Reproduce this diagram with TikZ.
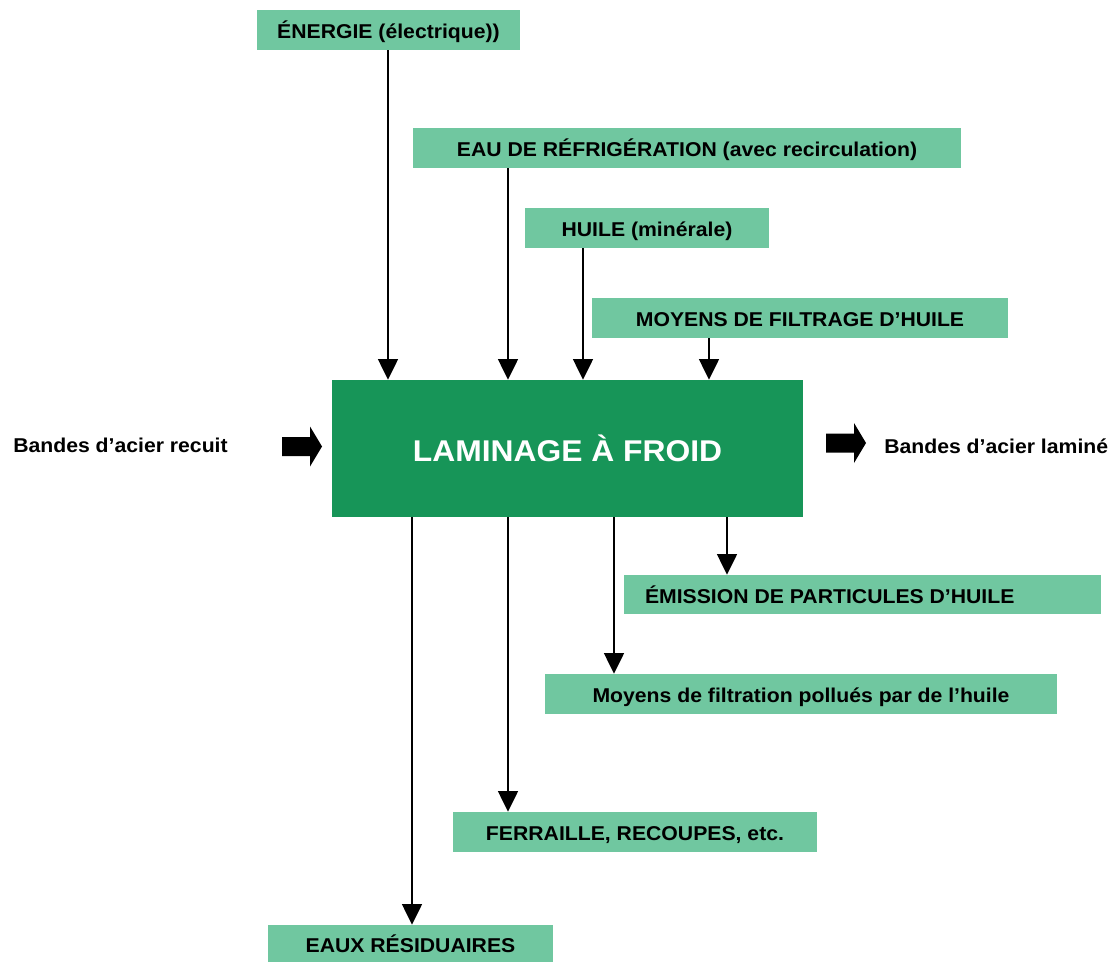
\documentclass[tikz,border=0pt]{standalone}
\usepackage{graphicx}
\usepackage{fontspec}
\setmainfont{Liberation Sans}
\usetikzlibrary{arrows.meta}
\definecolor{boxgreen}{HTML}{70C7A0}
\definecolor{maingreen}{HTML}{179558}
% slightly widened lettering
\newcommand{\wtext}[1]{\scalebox{1.06}[1]{#1}}

\begin{document}
\begin{tikzpicture}[x=0.75pt,y=-0.75pt,
  flowbox/.style={fill=boxgreen, draw=none, inner sep=0pt, minimum height=30pt,
    text height=13pt, text depth=0pt, font=\fontsize{15}{18}\selectfont\bfseries},
  mainbox/.style={fill=maingreen, draw=none, inner sep=0pt, text=white,
    minimum width=353.25pt, minimum height=102.75pt,
    text height=19.9pt, text depth=0pt, font=\fontsize{22.5}{27}\selectfont\bfseries},
  sidetext/.style={inner sep=0pt, font=\fontsize{15}{18}\selectfont\bfseries},
  flow/.style={-{Triangle[width=15pt,length=15.5pt]}, line width=1.1pt},
  blockarrow/.style={fill=black, draw=none}
]
\useasboundingbox (0,0) rectangle (1112,962);

% process
\node[mainbox] (main) at (567.5,448.5) {\wtext{LAMINAGE À FROID}};

% inputs
\node[flowbox, minimum width=197.25pt] (ener) at (388.5,30) {\wtext{ÉNERGIE (électrique))}};
\node[flowbox, minimum width=411pt] (eau) at (687,148) {\wtext{EAU DE RÉFRIGÉRATION (avec recirculation)}};
\node[flowbox, minimum width=183pt] (huile) at (647,228) {\wtext{HUILE (minérale)}};
\node[flowbox, minimum width=312pt] (moy) at (800,318) {\wtext{MOYENS DE FILTRAGE D’HUILE}};

% outputs
\node[flowbox, minimum width=357.75pt, minimum height=29.25pt] (emis) at (862.5,594.5) {};
\node[flowbox, anchor=west, fill=none] (emistext) at ([xshift=15.75pt]emis.west) {\wtext{ÉMISSION DE PARTICULES D’HUILE}};
\node[flowbox, minimum width=384pt] (filt) at (801,694) {\wtext{Moyens de filtration pollués par de l’huile}};
\node[flowbox, minimum width=273pt] (ferr) at (635,832) {\wtext{FERRAILLE, RECOUPES, etc.}};
\node[flowbox, minimum width=213.75pt, minimum height=27.75pt] (eaux) at (410.5,943.5) {\wtext{EAUX RÉSIDUAIRES}};

% connector columns
\coordinate (i1) at (388,0);
\coordinate (i2) at (508,0);
\coordinate (i3) at (583,0);
\coordinate (i4) at (709,0);
\coordinate (o1) at (412,0);
\coordinate (o2) at (508,0);
\coordinate (o3) at (614,0);
\coordinate (o4) at (727,0);

\draw[flow] (ener.south -| i1) -- (main.north -| i1);
\draw[flow] (eau.south -| i2) -- (main.north -| i2);
\draw[flow] (huile.south -| i3) -- (main.north -| i3);
\draw[flow] (moy.south -| i4) -- (main.north -| i4);

\draw[flow] (main.south -| o1) -- (eaux.north -| o1);
\draw[flow] (main.south -| o2) -- (ferr.north -| o2);
\draw[flow] (main.south -| o3) -- (filt.north -| o3);
\draw[flow] (main.south -| o4) -- (emis.north -| o4);

% material in / out
\node[sidetext, anchor=base west] (inlabel) at (13,452.5) {\wtext{Bandes d’acier recuit}};
\node[sidetext, anchor=base west] (outlabel) at (884,453.3) {\wtext{Bandes d’acier laminé}};

\fill[blockarrow] (282,437) -- (310,437) -- (310,426.5) -- (322,446.5)
  -- (310,466.5) -- (310,456) -- (282,456) -- cycle;
\fill[blockarrow] (826,433.5) -- (854,433.5) -- (854,423) -- (866,443)
  -- (854,463) -- (854,452.5) -- (826,452.5) -- cycle;
\end{tikzpicture}
\end{document}
